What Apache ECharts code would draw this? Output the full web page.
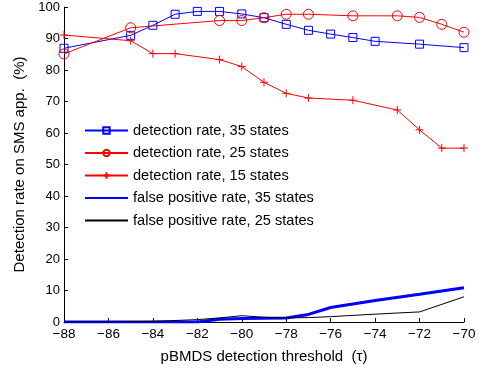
<!DOCTYPE html>
<html>
<head>
<meta charset="utf-8">
<script src="https://cdn.jsdelivr.net/npm/echarts@6/dist/echarts.min.js"></script>
<style>
  html, body { margin: 0; padding: 0; background: #fff; }
  #chart { width: 486px; height: 370px; }
</style>
</head>
<body>
<div id="chart"></div>
<script>
// detection rate, 35 states
const x35 = [-88, -85, -84, -83, -82, -81, -80, -79, -78, -77, -76, -75, -74, -72, -70];
const det35 = [86.9, 91.0, 94.2, 97.7, 98.6, 98.6, 97.8, 96.6, 94.5, 92.6, 91.4, 90.3, 89.1, 88.2, 87.1];

// detection rate, 25 states
const x25 = [-88, -85, -81, -80, -79, -78, -77, -75, -73, -72, -71, -70];
const det25 = [85.1, 93.4, 95.7, 95.7, 96.6, 97.7, 97.7, 97.2, 97.2, 96.7, 94.5, 92.0];

// detection rate, 15 states
const x15 = [-88, -85, -84, -83, -81, -80, -79, -78, -77, -75, -73, -72, -71, -70];
const det15 = [91.1, 89.3, 85.2, 85.2, 83.3, 81.1, 76.1, 72.6, 71.1, 70.4, 67.3, 61.0, 55.2, 55.2];

// false positive rates
const fpX = [-88, -86, -84, -82, -81, -80, -79, -78, -77, -76, -75, -74, -72, -70];
const fp35 = [0, 0, 0, 0, 0.9, 1.1, 1.2, 1.3, 2.4, 4.6, 5.7, 6.8, 8.8, 10.9];
const fp25 = [0, 0, 0.2, 0.75, 1.3, 2.0, 1.5, 1.3, 1.4, 1.7, 2.1, 2.5, 3.2, 8.0];

const names = [
  'detection rate, 35 states',
  'detection rate, 25 states',
  'detection rate, 15 states',
  'false positive rate, 35 states',
  'false positive rate, 25 states'
];

const zip = (xs, ys) => xs.map((x, i) => [x, ys[i]]);
const minus = v => String(v).replace('-', '\u2212');
const font = 'Liberation Sans, Arial, Helvetica, sans-serif';

const chart = echarts.init(document.getElementById('chart'), null, { renderer: 'canvas' });

const markerLine = (name, data, color, symbol, size) => ({
  name,
  type: 'line',
  data,
  symbol,
  symbolSize: size,
  showSymbol: true,
  animation: false,
  lineStyle: { color, width: 1 },
  itemStyle: { color: 'rgba(0,0,0,0)', borderColor: color, borderWidth: 1 },
  emphasis: { disabled: true },
  z: 3
});

chart.setOption({
  backgroundColor: '#fff',
  animation: false,
  grid: { left: 64, right: 22, top: 7, bottom: 48 },
  legend: {
    orient: 'vertical',
    left: 84,
    top: 123,
    padding: 0,
    itemWidth: 43,
    itemHeight: 8,
    itemGap: 7.5,
    data: [
      { name: names[0] },
      { name: names[1] },
      { name: names[2] },
      { name: names[3], itemStyle: { opacity: 0 } },
      { name: names[4], itemStyle: { opacity: 0 } }
    ],
    textStyle: { fontFamily: font, fontSize: 14.6, color: '#000' }
  },
  xAxis: {
    type: 'value',
    min: -88,
    max: -70,
    interval: 2,
    name: 'pBMDS detection threshold  (\u03c4)',
    nameLocation: 'middle',
    nameGap: 27,
    nameTextStyle: { fontFamily: font, fontSize: 15, color: '#000' },
    axisLine: { show: true, lineStyle: { color: '#000', width: 1 } },
    axisTick: { show: true, inside: true, length: 4, lineStyle: { color: '#000' } },
    axisLabel: { fontFamily: font, fontSize: 13.5, color: '#000', margin: 5, formatter: minus },
    splitLine: { show: false }
  },
  yAxis: {
    type: 'value',
    min: 0,
    max: 100,
    interval: 10,
    name: 'Detection rate on SMS app.  (%)',
    nameLocation: 'middle',
    nameGap: 33,
    nameTextStyle: { fontFamily: font, fontSize: 15, color: '#000' },
    axisLine: { show: true, lineStyle: { color: '#000', width: 1 } },
    axisTick: { show: true, inside: true, length: 4, lineStyle: { color: '#000' } },
    axisLabel: { fontFamily: font, fontSize: 13, color: '#000', margin: 4 },
    splitLine: { show: false }
  },
  series: [
    markerLine(names[0], zip(x35, det35), '#0000ff', 'rect', 8),
    markerLine(names[1], zip(x25, det25), '#ff0000', 'circle', 10),
    markerLine(names[2], zip(x15, det15), '#ff0000', 'path://M0,5L10,5M5,0L5,10', 8),
    {
      name: names[3],
      type: 'line',
      data: zip(fpX, fp35),
      symbol: 'none',
      lineStyle: { color: '#0000ff', width: 3 },
      itemStyle: { color: '#0000ff' },
      z: 2
    },
    {
      name: names[4],
      type: 'line',
      data: zip(fpX, fp25),
      symbol: 'none',
      lineStyle: { color: '#000', width: 1 },
      itemStyle: { color: '#000' },
      z: 2
    }
  ]
});
</script>
</body>
</html>
